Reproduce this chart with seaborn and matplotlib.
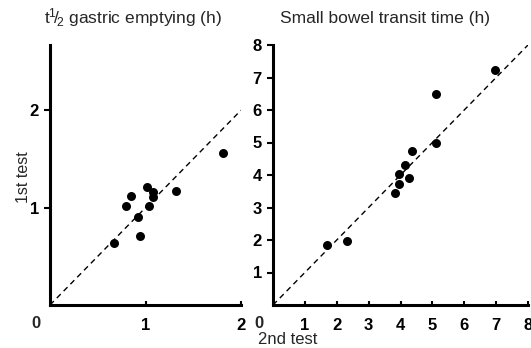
import matplotlib
matplotlib.use("Agg")
import matplotlib.pyplot as plt
import seaborn as sns

sns.set_style("ticks")
plt.rcParams['font.family'] = ['Liberation Sans', 'DejaVu Sans']
plt.rcParams['mathtext.fontset'] = 'custom'
plt.rcParams['mathtext.rm'] = 'Liberation Sans'
plt.rcParams['mathtext.it'] = 'Liberation Sans'

# t1/2 gastric emptying (h): 2nd test (x) vs 1st test (y)
gastric_2nd = [0.67, 0.80, 0.845, 0.92, 0.94, 1.02, 1.04, 1.075, 1.08, 1.32, 1.815]
gastric_1st = [0.64, 1.02, 1.12, 0.90, 0.71, 1.21, 1.02, 1.16, 1.11, 1.17, 1.56]

# small bowel transit time (h)
transit_2nd = [1.69, 2.33, 3.82, 3.94, 3.94, 4.28, 4.14, 4.37, 5.10, 5.11, 6.97]
transit_1st = [1.86, 1.98, 3.46, 3.73, 4.02, 3.92, 4.31, 4.73, 4.99, 6.48, 7.24]

identity_gastric = [0, 2]
identity_transit = [0, 8]

fig = plt.figure(figsize=(5.31, 3.48), dpi=100)
ax1 = fig.add_axes([50 / 531, 43 / 348, 191 / 531, 260 / 348])
ax2 = fig.add_axes([273 / 531, 43 / 348, 255 / 531, 260 / 348])

panels = [
    (ax1, gastric_2nd, gastric_1st, identity_gastric, (0, 2), (0, 2.67), [1, 2], [1, 2]),
    (ax2, transit_2nd, transit_1st, identity_transit, (0, 8), (0, 8), range(1, 9), range(1, 9)),
]

for ax, xs, ys, ident, xlim, ylim, xt, yt in panels:
    sns.lineplot(x=ident, y=ident, ax=ax, color='black', lw=1, linestyle=(0, (4, 3)))
    sns.scatterplot(x=xs, y=ys, ax=ax, color='black', s=42, linewidth=0)
    ax.set_xlim(*xlim)
    ax.set_ylim(*ylim)
    ax.set_xticks(list(xt))
    ax.set_yticks(list(yt))
    ax.spines[['top', 'right']].set_visible(False)
    for s in ['left', 'bottom']:
        ax.spines[s].set_linewidth(2.2)
        ax.spines[s].set_color('black')
    ax.tick_params(axis='y', direction='out', length=4, width=1.5, labelsize=12, pad=4, colors='black')
    ax.tick_params(axis='x', direction='in', length=3, width=1.5, labelsize=12, pad=9, colors='black')
    for lab in ax.get_xticklabels() + ax.get_yticklabels():
        lab.set_fontweight('bold')
    # shared corner "0"
    ax.annotate("0", xy=(0, 0), xycoords='axes fraction', xytext=(-10, -13),
                textcoords='offset points', ha='center', va='center', fontsize=12,
                fontweight='bold')

fig.text(44 / 531, 1 - 18 / 348, r"t$^{1}\!/\!_{2}$ gastric emptying (h)",
         ha='left', va='center', fontsize=12.5)
fig.text(280 / 531, 1 - 18 / 348, "Small bowel transit time (h)",
         ha='left', va='center', fontsize=12.5)
fig.text(23 / 531, 1 - 177 / 348, "1st test", rotation=90,
         ha='center', va='center', fontsize=11.5)
fig.text(258 / 531, 1 - 339 / 348, "2nd test", ha='left', va='center', fontsize=12)

fig.savefig("out.png", dpi=100)
